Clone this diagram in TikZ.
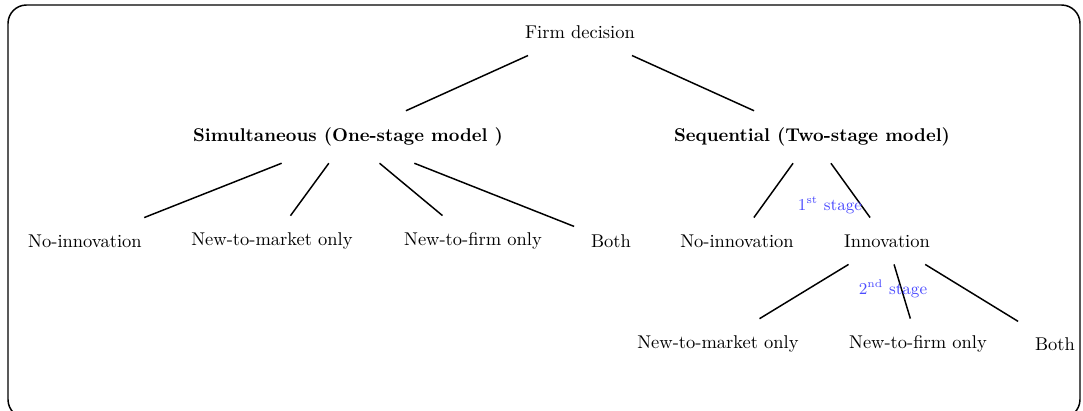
\documentclass[tikz,border=0pt]{standalone}
\usepackage{tikz}
\usepackage{amssymb}
\usepackage{amsmath,amsthm}

\begin{document}
\begin{tikzpicture}[x=0.01902cm,y=-0.01902cm,
		choice/.style={inner sep=9pt},
		branch/.style={thick},
		stagelabel/.style={text=blue!70,font=\small}]
			\useasboundingbox (0,0) rectangle (1083,411);
			\draw [thick, rounded corners=10pt] (8,5) rectangle (1080,418);

			% top
			\node[choice] (firm) at (580,32) {Firm decision};
			\node[choice] (simul) at (348,137) {\textbf{Simultaneous (One-stage model )}};
			\node[choice] (seq) at (812,137) {\textbf{Sequential (Two-stage model)}};

			% one-stage choices
			\node[choice] (sno) at (85,241) {No-innovation};
			\node[choice] (smkt) at (272,241) {New-to-market only};
			\node[choice] (sfirm) at (473,241) {New-to-firm only};
			\node[choice] (sboth) at (611,241) {Both};

			% two-stage choices
			\node[choice] (qno) at (737,241) {No-innovation};
			\node[choice] (qinno) at (887,241) {Innovation};
			\node[choice] (qmkt) at (718,344) {New-to-market only};
			\node[choice] (qfirm) at (918,344) {New-to-firm only};
			\node[choice] (qboth) at (1055,344) {Both};

			% branches
			\draw [branch] (firm) -- (simul) ;
			\draw [branch] (firm) -- (seq) ;
			\draw [branch] (simul) -- (sno) ;
			\draw [branch] (simul) -- (smkt) ;
			\draw [branch] (simul) -- (sfirm) ;
			\draw [branch] (simul) -- (sboth) ;
			\draw [branch] (seq) -- (qno) ;
			\draw [branch] (seq) -- (qinno) ;
			\draw [branch] (qinno) -- (qmkt) ;
			\draw [branch] (qinno) -- (qfirm) ;
			\draw [branch] (qinno) -- (qboth) ;

			% stage labels
			\node[stagelabel] (first) at (830,205) {1\textsuperscript{st} stage} ;
			\node[stagelabel] (second) at (893,289) {2\textsuperscript{nd} stage} ;
		\end{tikzpicture}
\end{document}
